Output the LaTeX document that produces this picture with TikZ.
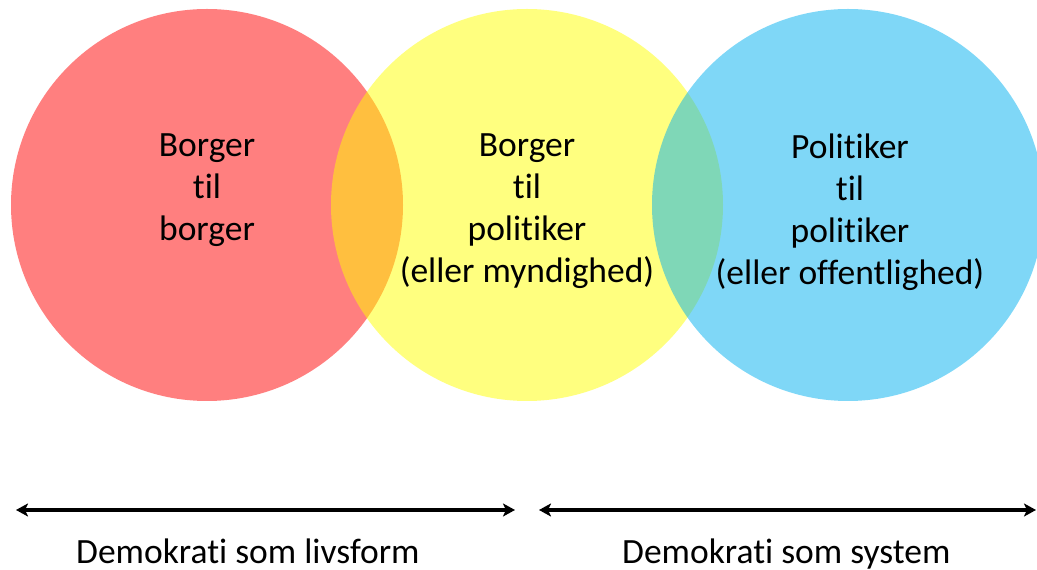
\documentclass[tikz,border=0pt]{standalone}
\usepackage{fontspec}
\setmainfont{Carlito}[RawFeature={-liga}]
\usepackage{tikz}
\usetikzlibrary{arrows.meta}

\definecolor{zred}{HTML}{FF0000}
\definecolor{zyellow}{HTML}{FFFF00}
\definecolor{zblue}{HTML}{00B0F0}

\begin{document}
\begin{tikzpicture}
    [x=1pt, y=1pt, >={Stealth[length=12pt, width=13pt, inset=3pt]},
     zone/.style={circle, minimum size=392pt, inner sep=0pt, fill opacity=0.5},
     txt/.style={anchor=north, align=center, inner sep=0pt, font=\fontsize{35.5}{42}\selectfont},
     axis/.style={anchor=base west, inner sep=0pt, font=\fontsize{35.5}{40}\selectfont},
     span/.style={<->, line width=3.5pt}]
    \useasboundingbox (0,0) rectangle (1037,570);
    \begin{scope}
    \node[zone, fill=zred] (r) at (207,365) {};
    \node[zone, fill=zyellow] (y) at (527,365) {};
    \node[zone, fill=zblue] (b) at (848,365) {};
    \node[txt] (rt) at ([yshift=71pt]r.center) {Borger\\til\\borger};
    \node[txt] (yt) at ([yshift=71pt]y.center) {Borger\\til\\politiker\\(eller myndighed)};
    \node[txt] (bt) at ([xshift=2pt, yshift=71pt]b.center) {Politiker\\til\\politiker\\(eller offentlighed)};
    \coordinate (l1) at (16,60);
    \coordinate (l2) at (515,60);
    \coordinate (s1) at (539,60);
    \coordinate (s2) at (1036,60);
    \draw[span] (l1) -- (l2);
    \draw[span] (s1) -- (s2);
    \node[axis] (lf) at (76,6) {Demokrati som livsform};
    \node[axis] (sy) at (622,6) {Demokrati som system};
    \end{scope}
\end{tikzpicture}
\end{document}
